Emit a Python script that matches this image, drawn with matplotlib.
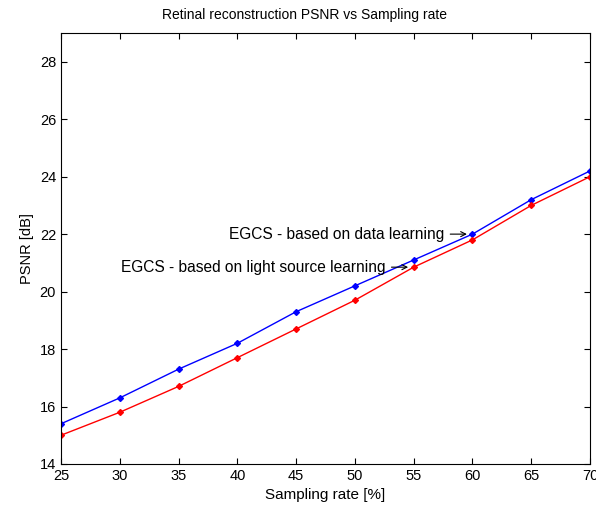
import matplotlib
matplotlib.use('Agg')
import matplotlib.pyplot as plt

# data
rate = [25, 30, 35, 40, 45, 50, 55, 60, 65, 70]
psnr_data = [15.4, 16.3, 17.3, 18.2, 19.3, 20.2, 21.1, 22.0, 23.2, 24.2]
psnr_light = [15.0, 15.8, 16.7, 17.7, 18.7, 19.7, 20.85, 21.8, 23.0, 24.0]

plt.rcParams['font.family'] = ['Liberation Sans', 'DejaVu Sans']

fig = plt.figure(figsize=(5.96, 5.14), dpi=100)
ax = fig.add_axes([0.1023, 0.0973, 0.8877, 0.8385])

ax.plot(rate, psnr_data, color='blue', linewidth=1, marker='D', markersize=3)
ax.plot(rate, psnr_light, color='red', linewidth=1, marker='D', markersize=3)

ax.set_xlim(25, 70)
ax.set_ylim(14, 29)
ax.set_xticks(range(25, 71, 5))
ax.set_yticks(range(14, 29, 2))
ax.tick_params(direction='in', top=True, right=True, labelsize=10.5, length=4)
for s in ax.spines.values():
    s.set_linewidth(0.8)

ax.set_xlabel('Sampling rate [%]', fontsize=11)
ax.set_ylabel('PSNR [dB]', fontsize=10.5)
ax.set_title('Retinal reconstruction PSNR vs Sampling rate', fontsize=10, pad=10, x=0.461)

arrow = dict(arrowstyle='->', color='black', lw=0.8, shrinkA=2, shrinkB=4,
             mutation_scale=9)
ax.annotate('EGCS - based on data learning', xy=(rate[7], psnr_data[7]),
            xytext=(-20, 0), textcoords='offset points', ha='right', va='center',
            fontsize=11.2, arrowprops=arrow)
ax.annotate('EGCS - based on light source learning', xy=(rate[6], psnr_light[6]),
            xytext=(-20, 0), textcoords='offset points', ha='right', va='center',
            fontsize=11.2, arrowprops=arrow)

fig.savefig('out.png', dpi=100)
